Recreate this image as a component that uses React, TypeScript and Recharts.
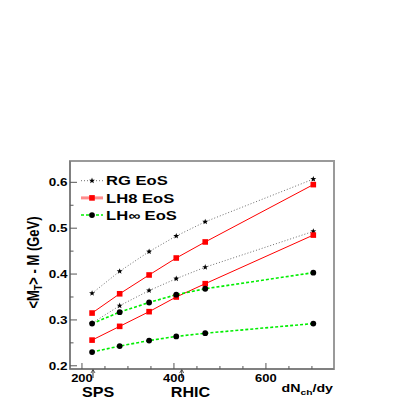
import React from 'react';
import { LineChart, Line, XAxis, YAxis, ReferenceArea, ReferenceDot, Legend } from 'recharts';

// ---- data ----
const dNch = [222, 282, 346, 405, 468, 703];
const rgHigh = [0.358, 0.406, 0.449, 0.483, 0.514, 0.607];
const rgLow = [0.293, 0.331, 0.364, 0.39, 0.415, 0.493];
const lh8High = [0.315, 0.357, 0.398, 0.435, 0.47, 0.595];
const lh8Low = [0.256, 0.286, 0.318, 0.35, 0.379, 0.485];
const lhInfHigh = [0.292, 0.317, 0.338, 0.355, 0.368, 0.403];
const lhInfLow = [0.23, 0.243, 0.255, 0.264, 0.271, 0.292];

const xTicks = [200, 250, 300, 350, 400, 450, 500, 550, 600, 650, 700];
const xLabeled = [200, 400, 600];
const yTicks = [0.2, 0.25, 0.3, 0.35, 0.4, 0.45, 0.5, 0.55, 0.6];
const yLabeled = [0.2, 0.3, 0.4, 0.5, 0.6];
const xDomain = [174, 748];
const yDomain = [0.193, 0.6465];
const legendNames = ['RG EoS', 'LH8 EoS', 'LH\u221E EoS'];
const annotations = [
  { x: 224, label: 'SPS' },
  { x: 417, label: 'RHIC' },
];

const data = dNch.map((x, i) => ({
  x,
  rgHigh: rgHigh[i],
  rgLow: rgLow[i],
  lh8High: lh8High[i],
  lh8Low: lh8Low[i],
  lhInfHigh: lhInfHigh[i],
  lhInfLow: lhInfLow[i],
}));

const FONT = '"Liberation Sans", Arial, Helvetica, sans-serif';
const RED = '#ff0000';
const GREEN = '#00ee00';
const GRAY = '#6e6e6e';

function starPath(cx: number, cy: number, R: number, r: number) {
  let d = '';
  for (let i = 0; i < 10; i++) {
    const rad = i % 2 === 0 ? R : r;
    const a = -Math.PI / 2 + (i * Math.PI) / 5;
    d += (i === 0 ? 'M' : 'L') + (cx + rad * Math.cos(a)).toFixed(2) + ',' + (cy + rad * Math.sin(a)).toFixed(2);
  }
  return d + 'Z';
}

const Star = (cx: number, cy: number, key?: string) => (
  <path key={key} d={starPath(cx, cy, 3.1, 1.3)} fill="#000" />
);
const Square = (cx: number, cy: number, key?: string) => (
  <rect key={key} x={cx - 2.8} y={cy - 2.8} width={5.6} height={5.6} fill={RED} />
);
const Circle = (cx: number, cy: number, key?: string) => (
  <circle key={key} cx={cx} cy={cy} r={2.9} fill="#000" />
);

const mkDot = (fn: any, name: string) => (p: any) => {
  if (p.cx == null || p.cy == null) return <g key={`${name}-${p.index}`} />;
  return fn(p.cx, p.cy, `${name}-${p.index}`);
};

const isMajorY = (v: number) => yLabeled.some((m) => Math.abs(m - v) < 1e-6);

const XTick = (props: any) => {
  const { x, y, payload } = props;
  const major = xLabeled.includes(payload.value);
  return (
    <g>
      <line x1={x} x2={x} y1={y} y2={y - (major ? 6 : 3)} stroke="#555" strokeWidth={1} />
      {major && (
        <text
          transform={`translate(${x},${y + 12.5}) scale(1.3,1)`}
          textAnchor="middle"
          fontFamily={FONT}
          fontWeight="bold"
          fontSize={10}
          fill="#000"
        >
          {payload.value}
        </text>
      )}
    </g>
  );
};

const YTick = (props: any) => {
  const { x, y, payload } = props;
  const major = isMajorY(payload.value);
  return (
    <g>
      <line x1={x} x2={x + (major ? 7 : 3.5)} y1={y} y2={y} stroke="#555" strokeWidth={1} />
      {major && (
        <text
          transform={`translate(${x - 2.5},${y + 3.8}) scale(1.35,1)`}
          textAnchor="end"
          fontFamily={FONT}
          fontWeight="bold"
          fontSize={10}
          fill="#000"
        >
          {payload.value.toFixed(1)}
        </text>
      )}
    </g>
  );
};

const legendStyles = [
  { stroke: GRAY, width: 1, dash: '1 2', marker: Star },
  { stroke: '#ff8c8c', width: 3, dash: undefined, marker: Square },
  { stroke: GREEN, width: 1.5, dash: '3 2', marker: Circle },
];

const LegendContent = () => (
  <svg width={140} height={54} style={{ display: 'block', overflow: 'visible' }}>
    {legendNames.map((name, i) => {
      const cy = 8.7 + i * 17.2;
      const s = legendStyles[i];
      return (
        <g key={name}>
          <line x1={0} x2={22} y1={cy} y2={cy} stroke={s.stroke} strokeWidth={s.width} strokeDasharray={s.dash} />
          {s.marker(11, cy)}
          <text
            transform={`translate(25,${cy + 4.6}) scale(1.33,1)`}
            fontFamily={FONT}
            fontWeight="bold"
            fontSize={12.5}
            fill="#000"
          >
            {name}
          </text>
        </g>
      );
    })}
  </svg>
);

const Annotation = (label: string) => (p: any) => {
  const { cx, cy } = p;
  return (
    <g>
      <line x1={cx} x2={cx} y1={cy + 1} y2={cy + 9} stroke="#333" strokeWidth={1} />
      <path d={`M${cx - 2},${cy + 4} L${cx},${cy + 0.5} L${cx + 2},${cy + 4}`} fill="none" stroke="#333" strokeWidth={0.8} />
      <text
        transform={`translate(${cx - 11},${cy + 28}) scale(1.15,1)`}
        fontFamily={FONT}
        fontWeight="bold"
        fontSize={14}
        fill="#000"
      >
        {label}
      </text>
    </g>
  );
};

const XTitle = (props: any) => {
  const vb = props.viewBox || {};
  const right = vb.x + vb.width;
  return (
    <text
      transform={`translate(${right - 1},${vb.y + 23}) scale(1.29,1)`}
      textAnchor="end"
      fontFamily={FONT}
      fontWeight="bold"
      fontSize={11}
      fill="#000"
    >
      <tspan>dN</tspan>
      <tspan dy={2.5} fontSize={8}>ch</tspan>
      <tspan dy={-2.5}>/dy</tspan>
    </text>
  );
};

const YTitle = (props: any) => {
  const vb = props.viewBox || {};
  const cy = vb.y + vb.height / 2;
  return (
    <text
      transform={`translate(38.5,${cy - 2.5}) rotate(-90) scale(1,1.2)`}
      textAnchor="middle"
      fontFamily={FONT}
      fontWeight="bold"
      fontSize={13}
      fill="#000"
    >
      <tspan>{'<M'}</tspan>
      <tspan dy={2.5} fontSize={9}>T</tspan>
      <tspan dy={-2.5}>{'> - M (GeV)'}</tspan>
    </text>
  );
};

const series = [
  { key: 'rgHigh', stroke: GRAY, width: 1, dash: '1 2', dot: mkDot(Star, 'rgH') },
  { key: 'rgLow', stroke: GRAY, width: 1, dash: '1 2', dot: mkDot(Star, 'rgL') },
  { key: 'lh8High', stroke: RED, width: 1, dash: undefined, dot: mkDot(Square, 'l8H') },
  { key: 'lh8Low', stroke: RED, width: 1, dash: undefined, dot: mkDot(Square, 'l8L') },
  { key: 'lhInfHigh', stroke: GREEN, width: 1.6, dash: '3 2', dot: mkDot(Circle, 'liH') },
  { key: 'lhInfLow', stroke: GREEN, width: 1.6, dash: '3 2', dot: mkDot(Circle, 'liL') },
];

export default function App() {
  return (
    <div style={{ position: 'absolute', left: 0, top: 0, width: 402, height: 402, background: '#fff' }}>
      <LineChart width={402} height={402} data={data} margin={{ top: 161, right: 68, left: 0, bottom: 0 }}>
        <ReferenceArea
          x1={xDomain[0]}
          x2={xDomain[1]}
          y1={yDomain[0]}
          y2={yDomain[1]}
          fill="none"
          stroke="#9a9a9a"
          strokeWidth={2}
          ifOverflow="visible"
        />
        <XAxis
          type="number"
          dataKey="x"
          domain={xDomain}
          allowDataOverflow
          ticks={xTicks}
          interval={0}
          tick={<XTick />}
          tickLine={false}
          tickSize={0}
          tickMargin={0}
          height={33}
          stroke="#666"
          label={<XTitle />}
        />
        <YAxis
          type="number"
          domain={yDomain}
          allowDataOverflow
          ticks={yTicks}
          interval={0}
          tick={<YTick />}
          tickLine={false}
          tickSize={0}
          tickMargin={0}
          width={70}
          stroke="#666"
          label={<YTitle />}
        />
        {series.map((s) => (
          <Line
            key={s.key}
            type="linear"
            dataKey={s.key}
            stroke={s.stroke}
            strokeWidth={s.width}
            strokeDasharray={s.dash}
            dot={s.dot}
            activeDot={false}
            legendType="none"
            isAnimationActive={false}
          />
        ))}
        {annotations.map((a) => (
          <ReferenceDot
            key={a.label}
            x={a.x}
            y={yDomain[0]}
            ifOverflow="visible"
            shape={Annotation(a.label)}
          />
        ))}
        <Legend
          layout="vertical"
          align="center"
          verticalAlign="middle"
          content={<LegendContent />}
          wrapperStyle={{ position: 'absolute', left: 81, top: 172, width: 140, height: 54 }}
        />
      </LineChart>
    </div>
  );
}
